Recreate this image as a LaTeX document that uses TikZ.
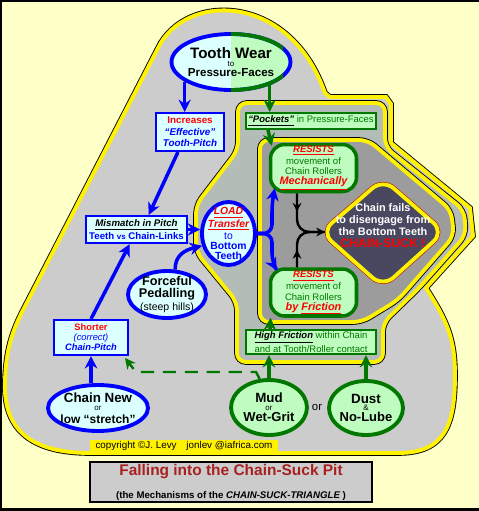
\documentclass[tikz,border=0pt]{standalone}
\usepackage{fontspec}
\setmainfont{Liberation Sans}
\usetikzlibrary{arrows.meta,shapes.geometric,decorations.markings}
\definecolor{bgyellow}{HTML}{FFFFC8}
\definecolor{outgray}{HTML}{CCCCCC}
\definecolor{pitA}{HTML}{B4BCB8}
\definecolor{pitB}{HTML}{9C9C9C}
\definecolor{slate}{HTML}{4A4860}
\definecolor{cyanfill}{HTML}{DCFFFF}
\definecolor{grnfill}{HTML}{BFFCBF}
\definecolor{dkgreen}{HTML}{007800}
\definecolor{titlered}{HTML}{A82020}
\tikzset{
  pitframe/.style={preaction={draw=black, line width=3.2pt}, postaction={draw=yellow, line width=2.2pt}},
  suckframe/.style={preaction={draw=red!70!black, line width=2.8pt}, postaction={draw=yellow, line width=2.2pt}},
  blueell/.style={ellipse, draw=blue, line width=2.2pt, fill=cyanfill, inner xsep=-8pt, inner ysep=-6pt, align=center},
  greenell/.style={ellipse, draw=dkgreen, line width=2.2pt, fill=grnfill, inner xsep=-8pt, inner ysep=-6pt, align=center},
  bluebox/.style={rectangle, draw=blue, line width=1.2pt, fill=cyanfill, inner sep=0pt, align=center},
  greenbox/.style={rectangle, draw=dkgreen, line width=1.2pt, fill=grnfill, inner sep=0pt, align=center},
  greenround/.style={rectangle, rounded corners=8pt, draw=dkgreen, line width=2pt, fill=grnfill, inner sep=0pt, align=center,
    minimum width=1.72cm, minimum height=0.94cm, font=\fontsize{5.4}{5.8}\selectfont},
  bluearrow/.style={draw=blue, line width=2pt, -{Stealth[length=7pt, width=7pt]}},
  greenarrow/.style={draw=dkgreen, line width=2pt, -{Stealth[length=7pt, width=7pt]}},
  greendash/.style={draw=dkgreen, line width=1.4pt, dash pattern=on 7.5pt off 5pt, -{Stealth[length=6pt, width=6pt]}},
  blackline/.style={draw=black, line width=1.4pt, rounded corners=7pt, postaction={decorate},
    decoration={markings, mark=at position 0.3 with {\arrow{Stealth[length=5pt, width=5pt]}}}},
}
\begin{document}
\begin{tikzpicture}[x=0.02cm, y=-0.02cm]
    \useasboundingbox (0,0) rectangle (479,511);
    \fill[bgyellow] (0,0) rectangle (479,511);
    \draw[line width=1.2pt] (482,1) -- (1,1) -- (1,509.5) -- (482,509.5);

    % the pit
    \path[pitframe, fill=outgray] (5,380) .. controls (6,350) and (12,332) .. (22,312) -- (158,48)
        .. controls (185,-8) and (290,-8) .. (325,93) -- (330,97) -- (386,97) -- (391,104) -- (391,143)
        -- (470,208) -- (473,236) -- (426,288) .. controls (448,322) and (455,340) .. (455,375)
        .. controls (455,425) and (445,453) .. (398,453) -- (90,453) .. controls (20,453) and (3,420) .. (5,380) -- cycle;
    \path[pitframe, fill=pitA, rounded corners=5pt] (238,125) -- (238,103) -- (385,103) -- (385,147) -- (464,210)
        -- (466,235) -- (419,288) -- (383,323) -- (383,362) -- (237,362) -- (237,302) -- (196,252) -- (196,205)
        -- (238,150) -- cycle;
    \path[pitframe, fill=pitB, rounded corners=5pt] (260,230) -- (260,140) -- (368,140) -- (451,210) -- (454,236)
        -- (398,300) -- (362,322) -- (260,322) -- cycle;
    \path[suckframe, fill=slate, rounded corners=8pt] (352,206) -- (383,179) -- (444,232) -- (383,287) -- (321,232) -- cycle;
    \coordinate (sucktip) at (325,232);

    % causes, blue side
    \node[blueell, minimum width=2.38cm, minimum height=1.12cm, font=\fontsize{5}{4.8}\selectfont,
        path picture={\fill[grnfill] (path picture bounding box.north) rectangle (path picture bounding box.south east);}]
        (wear) at (231,62) {{\fontsize{8.6}{8.6}\selectfont\bfseries Tooth Wear}\\{\fontsize{4.5}{4.5}\selectfont to}\\[1pt]{\fontsize{6.6}{6.6}\selectfont\bfseries Pressure-Faces}};
    \begin{scope}
        \clip ([yshift=5pt]wear.north) rectangle ([xshift=5pt, yshift=-5pt]wear.south east);
        \draw[dkgreen, line width=2.2pt] (wear.center) ellipse [x radius=1.19cm, y radius=0.56cm];
    \end{scope}
    \node[bluebox, minimum width=1.36cm, minimum height=0.76cm, font=\fontsize{5.6}{6.6}\selectfont\bfseries]
        (increases) at (190,132) {\textcolor{red}{Increases}\\\textcolor{blue}{\itshape ``Effective''}\\\textcolor{blue}{\itshape Tooth-Pitch}};
    \node[bluebox, minimum width=2.02cm, minimum height=0.54cm, font=\fontsize{5.5}{7.2}\selectfont\bfseries]
        (mismatch) at (136.5,229.5) {{\itshape\underline{Mismatch in Pitch}}\\\textcolor{blue}{Teeth {\fontsize{4.5}{5}\selectfont vs} Chain-Links}};
    \node[blueell, minimum width=1.06cm, minimum height=1.26cm, font=\fontsize{5.9}{5.8}\selectfont\bfseries]
        (load) at (228.5,233.5) {\textcolor{red}{\itshape\underline{LOAD}}\\\textcolor{red}{\itshape\underline{Transfer}}\\\textcolor{blue}{\mdseries to}\\\textcolor{blue}{Bottom}\\\textcolor{blue}{Teeth}};
    \node[blueell, minimum width=1.56cm, minimum height=0.94cm, font=\fontsize{7.2}{7}\selectfont]
        (forceful) at (167,294.5) {\textbf{Forceful}\\\textbf{Pedalling}\\{\fontsize{6}{6}\selectfont(steep hills)}};
    \node[bluebox, minimum width=1.48cm, minimum height=0.7cm, font=\fontsize{5.3}{5.7}\selectfont]
        (shorter) at (91,337.5) {\textcolor{red}{\bfseries Shorter}\\\textcolor{blue}{\itshape (correct)}\\\textcolor{blue}{\bfseries\itshape Chain-Pitch}};
    \node[blueell, minimum width=2.0cm, minimum height=0.92cm, font=\fontsize{5}{4.5}\selectfont]
        (chainnew) at (98,408) {{\fontsize{7.6}{7.6}\selectfont\bfseries Chain New}\\{\fontsize{4.5}{4.5}\selectfont or}\\[1.2pt]{\fontsize{6.8}{6.8}\selectfont\bfseries low ``stretch''}};

    % causes, green side
    \node[greenbox, minimum width=2.6cm, minimum height=0.32cm, font=\fontsize{5.4}{6}\selectfont]
        (pockets) at (311,121) {{\bfseries\itshape\underline{``Pockets''}}\ \textcolor{dkgreen}{in Pressure-Faces}};
    \node[greenround] (mech) at (313.5,168) {\textcolor{red}{\bfseries\itshape\underline{RESISTS}}\\\textcolor{dkgreen}{movement of}\\\textcolor{dkgreen}{Chain Rollers}\\\textcolor{red}{\fontsize{6.2}{6}\selectfont\bfseries\itshape\underline{Mechanically}}};
    \node[greenround] (fric) at (313.5,292.5) {\textcolor{red}{\bfseries\itshape\underline{RESISTS}}\\\textcolor{dkgreen}{movement of}\\\textcolor{dkgreen}{Chain Rollers}\\\textcolor{red}{\fontsize{6.2}{6}\selectfont\bfseries\itshape by \underline{Friction}}};
    \node[greenbox, minimum width=2.6cm, minimum height=0.48cm, font=\fontsize{5.4}{6.3}\selectfont]
        (hifric) at (311,342) {{\bfseries\itshape\underline{High Friction}}\ \textcolor{dkgreen}{within Chain}\\\textcolor{dkgreen}{and at Tooth/Roller contact}};
    \node[greenell, minimum width=1.52cm, minimum height=1.1cm, font=\fontsize{5}{4.3}\selectfont]
        (mud) at (269,407.5) {{\fontsize{7.6}{7.6}\selectfont\bfseries Mud}\\{\fontsize{4.5}{4.5}\selectfont or}\\{\fontsize{7.4}{7.4}\selectfont\bfseries Wet-Grit}};
    \node[greenell, minimum width=1.48cm, minimum height=1.08cm, font=\fontsize{5}{4.3}\selectfont]
        (dust) at (366,408) {{\fontsize{7.6}{7.6}\selectfont\bfseries Dust}\\{\fontsize{4.5}{4.5}\selectfont\&}\\{\fontsize{7.4}{7.4}\selectfont\bfseries No-Lube}};
    \node[font=\fontsize{6.5}{7}\selectfont] (ortext) at (317,407) {or};

    \node[text=white, font=\fontsize{6.2}{6.8}\selectfont\bfseries, align=center]
        (suck) at (383,226) {Chain fails\\to disengage from\\the Bottom Teeth\\\textcolor{red}{\fontsize{7}{7}\selectfont CHAIN-SUCK !}};

    % connectors
    \draw[bluearrow] (wear.-157) -- (wear.-157 |- increases.north);
    \draw[greenarrow] (wear.-31) -- (wear.-31 |- pockets.north);
    \draw[bluearrow] (increases.239) -- (mismatch.50);
    \draw[bluearrow] (mismatch.east) -- (mismatch.east -| load.west);
    \draw[bluearrow] (shorter.north) -- (mismatch.245);
    \draw[bluearrow] (shorter.south |- chainnew.north) -- (shorter.south);
    \draw[bluearrow] (forceful.72) .. controls (175,255) and (185,250) .. (load.205);
    \draw[bluearrow, rounded corners=5pt] (load.east) -| (272,203) -- ([xshift=0.12cm, yshift=0.1cm]mech.south west);
    \draw[bluearrow, rounded corners=5pt] (load.east) -| (272,262) -- ([xshift=0.16cm, yshift=-0.06cm]fric.north west);
    \draw[blackline, -{Stealth[length=5pt, width=5pt]}] ([xshift=-0.33cm]mech.south) |- (sucktip);
    \draw[blackline] ([xshift=-0.33cm]fric.north) |- (sucktip);
    \draw[greenarrow] ([xshift=-0.86cm]pockets.south) -- ([xshift=0.06cm, yshift=-0.06cm]mech.north west);
    \draw[greenarrow] ([xshift=-0.82cm]hifric.north) -- ([xshift=-0.86cm]fric.south);
    \foreach \src in {mud, dust}
        \draw[greenarrow] (\src.north) -- (\src.north |- hifric.south);
    \draw[greendash] (mud.108) -- (256,372) -- (136,372) -- ([xshift=-0.08cm, yshift=-0.04cm]shorter.south east);

    % footer
    \node[fill=yellow, minimum width=3.76cm, minimum height=0.24cm, inner sep=0pt, font=\fontsize{5.6}{6}\selectfont]
        (copy) at (184,446) {copyright ©J. Levy\quad jonlev @iafrica.com};
    \node[draw=black, line width=1.2pt, fill=outgray, minimum width=5.64cm, minimum height=0.8cm, inner sep=0pt, align=center]
        (title) at (231,482) {{\fontsize{8.8}{9}\selectfont\bfseries\textcolor{titlered}{Falling into the Chain-Suck Pit}}\\[1pt]{\fontsize{5.5}{6}\selectfont\bfseries (the Mechanisms of the \itshape CHAIN-SUCK-TRIANGLE\upshape\ )}};
\end{tikzpicture}
\end{document}
